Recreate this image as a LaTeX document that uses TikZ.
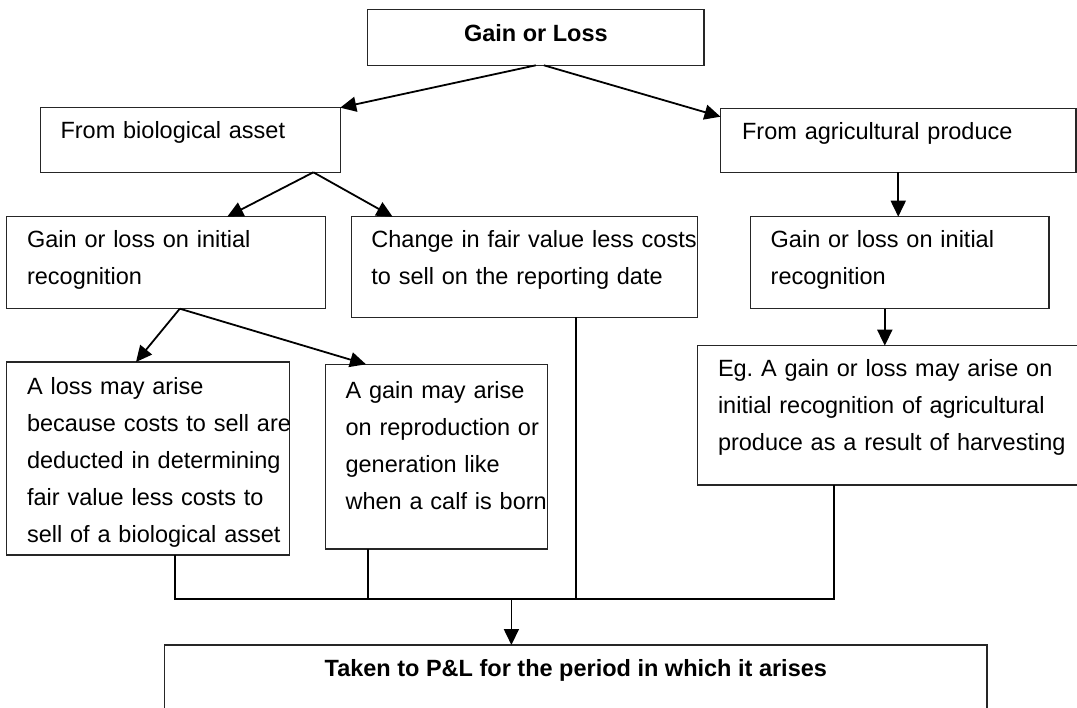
\documentclass[tikz,border=0pt]{standalone}
\usepackage{fontspec}
\setmainfont{Liberation Sans}
\usetikzlibrary{arrows.meta}
\frenchspacing

\begin{document}
\begin{tikzpicture}[x=1pt, y=-1pt,
    box/.style={draw=black!85, line width=1.3pt, anchor=north west, inner sep=0pt, outer sep=0pt},
    txt/.style={anchor=base west, inner sep=0pt, align=left, text width=#1, font=\fontsize{23.5}{37}\selectfont},
    hd/.style={anchor=base, inner sep=0pt, font=\bfseries\fontsize{23.5}{28}\selectfont},
    wire/.style={line width=1.8pt},
    arr/.style={line width=1.8pt, -{Triangle[length=16pt,width=15pt]}}]
    \useasboundingbox (0,0) rectangle (1077,708);
    \clip (0,0) rectangle (1077,708);

    % Boxes
    \node[box, minimum width=336.3pt, minimum height=56pt] (top) at (367.7,9.3) {};
    \node[box, minimum width=299.9pt, minimum height=64.6pt] (bio) at (40.3,107.7) {};
    \node[box, minimum width=355.5pt, minimum height=63.6pt] (agri) at (720.5,108.7) {};
    \node[box, minimum width=319.6pt, minimum height=92pt] (initL) at (6.2,216.7) {};
    \node[box, minimum width=346.3pt, minimum height=100.6pt] (change) at (351.2,216.7) {};
    \node[box, minimum width=298.5pt, minimum height=92pt] (initR) at (750.5,216.7) {};
    \node[box, minimum width=283.1pt, minimum height=193pt] (loss) at (6.2,362) {};
    \node[box, minimum width=221.9pt, minimum height=184.7pt] (gain) at (325.4,364.3) {};
    \node[box, minimum width=400pt, minimum height=139.3pt] (eg) at (697.5,345.7) {};
    \node[box, minimum width=822.4pt, minimum height=90pt] (pl) at (164.6,645) {};

    % Texts
    \node[hd] (topText) at ([yshift=-32.4pt]top.north) {Gain or Loss};
    \node[txt=280pt] (bioText) at ([shift={(20pt,-31.3pt)}]bio.north west) {From biological asset};
    \node[txt=330pt] (agriText) at ([shift={(21.4pt,-30.6pt)}]agri.north west) {From agricultural produce};
    \node[txt=300pt] (initLText) at ([shift={(20.7pt,-30.6pt)}]initL.north west) {Gain or loss on initial\\recognition};
    \node[txt=330pt] (changeText) at ([shift={(20pt,-30.6pt)}]change.north west) {Change in fair value less costs\\to sell on the reporting date};
    \node[txt=280pt] (initRText) at ([shift={(20pt,-30.6pt)}]initR.north west) {Gain or loss on initial\\recognition};
    \node[txt=275pt] (lossText) at ([shift={(20.7pt,-33pt)}]loss.north west) {A loss may arise\\because costs to sell are\\deducted in determining\\fair value less costs to\\sell of a biological asset};
    \node[txt=215pt] (gainText) at ([shift={(20pt,-34pt)}]gain.north west) {A gain may arise\\on reproduction or\\generation like\\when a calf is born};
    \node[txt=370pt] (egText) at ([shift={(20.3pt,-31pt)}]eg.north west) {Eg. A gain or loss may arise on\\initial recognition of agricultural\\produce as a result of harvesting};
    \node[hd] (plText) at ([yshift=-31.7pt]pl.north) {Taken to P\&L for the period in which it arises};

    % Arrows down the tree
    \draw[arr] (top.south) -- (bio.north east);
    \draw[arr] ([xshift=8pt]top.south) -- ([yshift=-8pt]agri.north west);

    \coordinate (bioFork) at ([xshift=-26.8pt]bio.south east);
    \draw[arr] (bioFork) -- ([xshift=221pt]initL.north west);
    \draw[arr] (bioFork) -- ([xshift=41.4pt]change.north west);
    \draw[arr] (agri.south) -- (agri.south |- initR.north);

    \coordinate (initFork) at ([xshift=173.6pt]initL.south west);
    \draw[arr] (initFork) -- ([xshift=129.8pt]loss.north west);
    \draw[arr] (initFork) -- ([xshift=40.6pt]gain.north west);

    \coordinate (egFork) at ([xshift=134.3pt]initR.south west);
    \draw[arr] (egFork) -- (egFork |- eg.north);

    % Collecting line to P&L
    \coordinate (bus) at (0,599.3);
    \foreach \b/\dx in {loss/168.7, gain/42.4, change/224.7, eg/136.3}
        \coordinate (\b Drop) at ([xshift=\dx pt]\b.south west);
    \draw[wire] (lossDrop) -- (lossDrop |- bus) -- (egDrop |- bus) -- (egDrop);
    \draw[wire] (gainDrop) -- (gainDrop |- bus);
    \draw[wire] (changeDrop) -- (changeDrop |- bus);

    \coordinate (plIn) at ([xshift=346.8pt]pl.north west);
    \draw[arr] (plIn |- bus) -- (plIn);
\end{tikzpicture}
\end{document}
